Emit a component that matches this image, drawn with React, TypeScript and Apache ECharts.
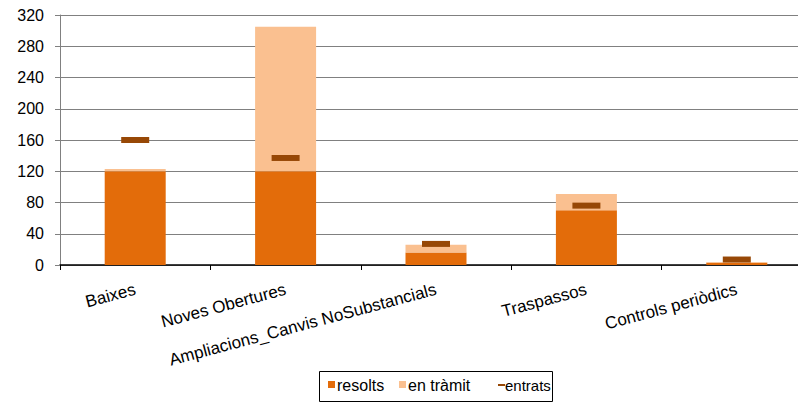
import React, { useEffect, useRef } from "react";
import * as echarts from "echarts";

const categories = [
  "Baixes",
  "Noves Obertures",
  "Ampliacions_Canvis NoSubstancials",
  "Traspassos",
  "Controls periòdics",
];
const resolts = [120, 120, 16, 70, 3];
const enTramit = [3, 185, 10, 21, 1];
const entrats = [160, 137, 27, 76, 7];
const yTicks = { min: 0, max: 320, interval: 40 };

const FONT = "'Liberation Sans', Arial, sans-serif";
const C_RES = "#E36C0A";
const C_TRA = "#FAC090";
const C_ENT = "#974806";

export default function App() {
  const ref = useRef<HTMLDivElement>(null);
  useEffect(() => {
    if (!ref.current) return;
    const chart = echarts.init(ref.current, undefined, { renderer: "svg" });
    chart.setOption({
      animation: false,
      backgroundColor: "#ffffff",
      textStyle: { fontFamily: FONT },
      grid: {
        left: 60,
        top: 15,
        width: 752,
        height: 250,
        containLabel: false,
        outerBoundsMode: "none",
      },
      xAxis: {
        type: "category",
        data: categories,
        boundaryGap: true,
        axisLine: { show: true, lineStyle: { color: "#000000", width: 1.5 } },
        axisTick: { show: true, length: 5, lineStyle: { color: "#000000" } },
        axisLabel: {
          rotate: 15,
          margin: 24,
          interval: 0,
          color: "#000000",
          fontSize: 17,
          fontFamily: FONT,
        },
        splitLine: { show: false },
      },
      yAxis: {
        type: "value",
        min: yTicks.min,
        max: yTicks.max,
        interval: yTicks.interval,
        axisLine: { show: true, lineStyle: { color: "#808080" } },
        axisTick: { show: true, length: 5, lineStyle: { color: "#808080" } },
        axisLabel: { margin: 16, color: "#000000", fontSize: 16, fontFamily: FONT },
        splitLine: { show: true, lineStyle: { color: "#808080", width: 1 } },
      },
      series: [
        {
          name: "resolts",
          type: "bar",
          stack: "total",
          barWidth: 61,
          data: resolts,
          itemStyle: { color: C_RES },
        },
        {
          name: "en tràmit",
          type: "bar",
          stack: "total",
          barWidth: 61,
          data: enTramit,
          itemStyle: { color: C_TRA },
        },
        {
          name: "entrats",
          type: "scatter",
          data: entrats,
          symbol: "rect",
          symbolSize: [28, 6],
          itemStyle: { color: C_ENT, opacity: 1 },
          z: 5,
        },
      ],
      graphic: [
        {
          type: "rect",
          shape: { x: 319.5, y: 371.5, width: 233, height: 30 },
          style: { fill: "#ffffff", stroke: "#000000", lineWidth: 1 },
        },
        { type: "rect", shape: { x: 328, y: 381, width: 7, height: 7 }, style: { fill: C_RES } },
        {
          type: "text",
          x: 337,
          y: 385,
          style: { text: "resolts", font: `16px ${FONT}`, fill: "#000000", verticalAlign: "middle" },
        },
        { type: "rect", shape: { x: 399, y: 381, width: 7, height: 7 }, style: { fill: C_TRA } },
        {
          type: "text",
          x: 408,
          y: 385,
          style: { text: "en tràmit", font: `16px ${FONT}`, fill: "#000000", verticalAlign: "middle" },
        },
        { type: "rect", shape: { x: 498, y: 384, width: 7, height: 2 }, style: { fill: C_ENT } },
        {
          type: "text",
          x: 505,
          y: 385,
          style: { text: "entrats", font: `15px ${FONT}`, fill: "#000000", verticalAlign: "middle" },
        },
      ],
    });
    return () => chart.dispose();
  }, []);
  return (
    <div
      ref={ref}
      style={{ position: "absolute", left: 0, top: 0, width: 798, height: 404 }}
    />
  );
}
